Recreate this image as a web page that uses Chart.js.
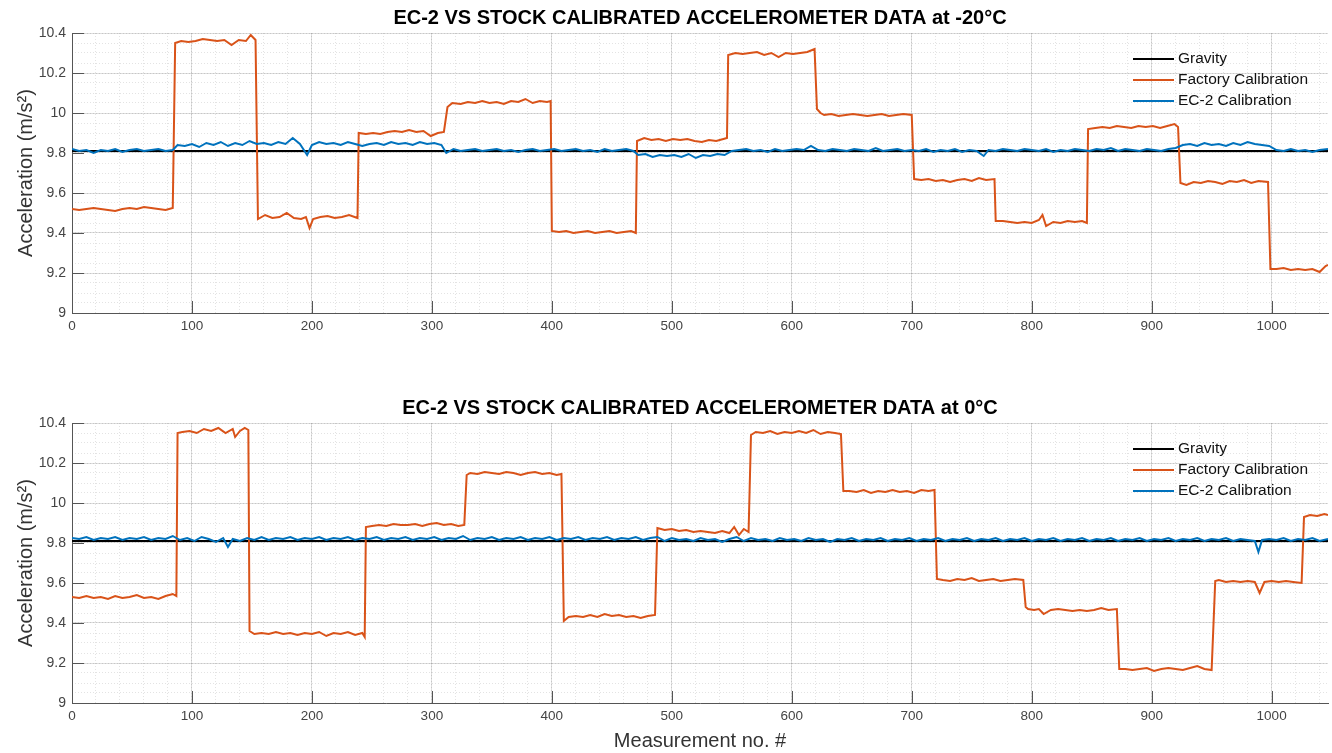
<!DOCTYPE html>
<html>
<head>
<meta charset="utf-8">
<script src="https://cdn.jsdelivr.net/npm/chart.js@4.4.0/dist/chart.umd.min.js"></script>
<style>
body{margin:0;background:#fff;}
canvas{position:absolute;left:0;}
#top{top:0;}
#bottom{top:390px;}
</style>
</head>
<body>
<canvas id="top" width="1332" height="365"></canvas>
<canvas id="bottom" width="1332" height="363"></canvas>
<script>
var xMax = 1047;
var seriesNames = ['Gravity', 'Factory Calibration', 'EC-2 Calibration'];
var titles = ['EC-2 VS STOCK CALIBRATED ACCELEROMETER DATA at -20°C', 'EC-2 VS STOCK CALIBRATED ACCELEROMETER DATA at 0°C'];
var gravity = [[0, 9.81], [1047, 9.81]];

var topFactory = [
[0,9.52],[6,9.515],[12,9.52],[18,9.525],[24,9.52],[30,9.515],[36,9.51],[42,9.52],[48,9.525],[54,9.52],[60,9.53],[66,9.525],[72,9.52],[78,9.515],[84,9.525],
[86,10.35],[91,10.36],[97,10.355],[103,10.36],[109,10.37],[115,10.365],[121,10.36],[127,10.365],[133,10.34],[139,10.365],[145,10.36],[149,10.39],[153,10.365],
[155,9.47],[161,9.49],[167,9.475],[173,9.48],[179,9.50],[185,9.475],[191,9.47],[195,9.48],[198,9.425],[201,9.47],[207,9.48],[213,9.485],[219,9.475],[225,9.48],[231,9.49],[238,9.475],
[239,9.90],[245,9.895],[251,9.90],[257,9.895],[263,9.905],[269,9.91],[275,9.905],[281,9.915],[287,9.905],[293,9.91],[299,9.885],[305,9.90],[310,9.905],
[313,10.03],[317,10.05],[324,10.045],[330,10.055],[336,10.05],[342,10.06],[348,10.05],[354,10.055],[360,10.045],[366,10.06],[372,10.055],[378,10.07],[384,10.05],[390,10.06],[396,10.055],[399,10.06],
[400,9.41],[406,9.405],[412,9.41],[418,9.40],[424,9.405],[430,9.41],[436,9.40],[442,9.405],[448,9.41],[454,9.40],[460,9.405],[466,9.41],[470,9.40],
[471,9.86],[477,9.875],[483,9.865],[489,9.87],[495,9.86],[501,9.87],[507,9.865],[513,9.87],[519,9.86],[525,9.855],[531,9.865],[537,9.86],[543,9.87],[546,9.875],
[547,10.29],[553,10.30],[559,10.295],[565,10.30],[571,10.305],[577,10.29],[583,10.30],[589,10.28],[595,10.30],[601,10.295],[607,10.30],[613,10.305],[619,10.32],
[621,10.02],[624,10.0],[627,9.99],[633,9.995],[639,9.985],[645,9.99],[651,9.995],[657,9.99],[663,9.985],[669,9.99],[675,9.995],[681,9.985],[687,9.99],[693,9.995],[700,9.99],
[702,9.67],[708,9.665],[714,9.67],[720,9.66],[726,9.665],[732,9.655],[738,9.665],[744,9.67],[750,9.66],[756,9.675],[762,9.665],[769,9.67],
[770,9.46],[776,9.46],[782,9.455],[788,9.45],[794,9.455],[800,9.45],[806,9.465],[809,9.49],[812,9.435],[818,9.455],[824,9.45],[830,9.46],[836,9.455],[842,9.46],[846,9.45],
[847,9.92],[853,9.925],[859,9.93],[865,9.925],[871,9.935],[877,9.93],[883,9.925],[889,9.935],[895,9.93],[901,9.935],[907,9.925],[913,9.935],[919,9.945],[922,9.93],
[924,9.65],[929,9.64],[935,9.655],[941,9.65],[947,9.66],[953,9.655],[959,9.645],[965,9.66],[971,9.655],[977,9.665],[983,9.65],[989,9.66],[997,9.655],
[999,9.22],[1004,9.22],[1010,9.225],[1016,9.215],[1022,9.22],[1028,9.215],[1034,9.22],[1040,9.205],[1045,9.235],[1047,9.24]
];

var topEc2 = [
[0,9.82],[6,9.81],[12,9.815],[18,9.80],[24,9.815],[30,9.81],[36,9.82],[42,9.805],[48,9.815],[54,9.82],[60,9.81],[66,9.815],[72,9.82],[78,9.81],[84,9.815],
[88,9.84],[94,9.835],[100,9.845],[106,9.83],[112,9.85],[118,9.84],[124,9.855],[130,9.835],[136,9.85],[142,9.84],[148,9.86],[154,9.845],[160,9.85],[166,9.84],[172,9.855],[178,9.845],[184,9.875],[190,9.845],[196,9.79],[200,9.84],[206,9.855],[212,9.845],[218,9.85],[224,9.84],[230,9.855],[236,9.845],[242,9.835],[248,9.845],[254,9.85],[260,9.84],[266,9.855],[272,9.845],[278,9.85],[284,9.84],[290,9.855],[296,9.845],[302,9.85],[308,9.84],
[312,9.80],[318,9.82],[324,9.81],[330,9.815],[336,9.82],[342,9.81],[348,9.815],[354,9.82],[360,9.81],[366,9.815],[372,9.805],[378,9.815],[384,9.82],[390,9.81],[396,9.815],[402,9.82],[408,9.81],[414,9.815],[420,9.82],[426,9.81],[432,9.815],[438,9.805],[444,9.82],[450,9.81],[456,9.815],[462,9.82],[468,9.81],
[472,9.79],[478,9.795],[484,9.78],[490,9.79],[496,9.785],[502,9.79],[508,9.78],[514,9.795],[520,9.775],[526,9.79],[532,9.785],[538,9.795],[544,9.79],
[550,9.81],[556,9.815],[562,9.82],[568,9.81],[574,9.815],[580,9.805],[586,9.82],[592,9.81],[598,9.815],[604,9.82],[610,9.815],[616,9.835],[622,9.815],[628,9.81],[634,9.82],[640,9.815],[646,9.81],[652,9.82],[658,9.815],[664,9.81],[670,9.825],[676,9.81],[682,9.815],[688,9.82],[694,9.81],[700,9.815],[706,9.81],[712,9.82],[718,9.805],[724,9.815],[730,9.81],[736,9.82],[742,9.805],[748,9.815],[754,9.81],[760,9.785],[764,9.815],[770,9.81],[776,9.82],[782,9.815],[788,9.81],[794,9.82],[800,9.815],[806,9.81],[812,9.82],[818,9.805],[824,9.815],[830,9.81],[836,9.82],[842,9.815],[848,9.81],[854,9.82],[860,9.815],[866,9.825],[872,9.81],[878,9.82],[884,9.815],[890,9.81],[896,9.82],[902,9.815],[908,9.81],[914,9.82],[920,9.825],
[926,9.84],[932,9.845],[938,9.835],[944,9.85],[950,9.84],[956,9.845],[962,9.835],[968,9.85],[974,9.84],[980,9.855],[986,9.845],[992,9.84],[998,9.835],
[1004,9.815],[1010,9.81],[1016,9.82],[1022,9.81],[1028,9.815],[1034,9.805],[1040,9.815],[1047,9.82]
];

var bottomFactory = [
[0,9.53],[6,9.525],[12,9.535],[18,9.525],[24,9.53],[30,9.52],[36,9.535],[42,9.525],[48,9.53],[54,9.54],[60,9.525],[66,9.53],[72,9.52],[78,9.535],[84,9.545],[87,9.535],
[88,10.35],[92,10.355],[98,10.36],[104,10.35],[110,10.37],[116,10.36],[122,10.375],[128,10.35],[134,10.37],[136,10.33],[140,10.36],[144,10.375],[147,10.365],
[148,9.36],[152,9.345],[158,9.35],[164,9.345],[170,9.355],[176,9.345],[182,9.35],[188,9.34],[194,9.35],[200,9.345],[206,9.355],[212,9.335],[218,9.35],[224,9.345],[230,9.355],[236,9.34],[242,9.35],[244,9.33],
[245,9.88],[250,9.885],[256,9.89],[262,9.885],[268,9.895],[274,9.89],[280,9.89],[286,9.895],[292,9.885],[298,9.895],[304,9.90],[310,9.89],[316,9.895],[322,9.885],[327,9.89],
[329,10.14],[332,10.15],[338,10.145],[344,10.155],[350,10.15],[356,10.145],[362,10.155],[368,10.15],[374,10.14],[380,10.15],[386,10.155],[392,10.145],[398,10.15],[404,10.14],[408,10.145],
[410,9.41],[414,9.43],[420,9.435],[426,9.43],[432,9.44],[438,9.43],[444,9.445],[450,9.435],[456,9.44],[462,9.43],[468,9.435],[474,9.425],[480,9.435],[486,9.44],
[488,9.875],[494,9.865],[500,9.87],[506,9.86],[512,9.865],[518,9.855],[524,9.86],[530,9.855],[536,9.85],[542,9.86],[548,9.85],[552,9.88],[556,9.84],[560,9.87],[564,9.855],
[566,10.34],[570,10.355],[576,10.35],[582,10.36],[588,10.345],[594,10.355],[600,10.35],[606,10.36],[612,10.35],[618,10.365],[624,10.345],[630,10.355],[636,10.35],[641,10.345],
[643,10.06],[648,10.06],[654,10.055],[660,10.065],[666,10.05],[672,10.06],[678,10.055],[684,10.065],[690,10.055],[696,10.06],[702,10.05],[708,10.065],[714,10.06],[719,10.065],
[721,9.62],[726,9.615],[732,9.61],[738,9.62],[744,9.615],[750,9.625],[756,9.61],[762,9.615],[768,9.62],[774,9.61],[780,9.615],[786,9.62],[793,9.615],
[795,9.48],[797,9.47],[802,9.465],[806,9.47],[810,9.445],[816,9.465],[822,9.47],[828,9.465],[834,9.46],[840,9.465],[846,9.46],[852,9.465],[858,9.475],[864,9.465],[871,9.47],
[873,9.17],[878,9.17],[884,9.165],[890,9.17],[896,9.175],[902,9.16],[908,9.17],[914,9.175],[920,9.17],[926,9.165],[932,9.175],[938,9.185],[944,9.17],[950,9.165],
[953,9.61],[956,9.615],[962,9.605],[968,9.61],[974,9.605],[980,9.61],[986,9.605],[990,9.55],[994,9.605],[1000,9.61],[1006,9.605],[1012,9.61],[1018,9.605],[1025,9.60],
[1027,9.93],[1032,9.94],[1038,9.935],[1044,9.945],[1047,9.94]
];

var bottomEc2 = [
[0,9.825],[6,9.82],[12,9.83],[18,9.815],[24,9.825],[30,9.82],[36,9.83],[42,9.815],[48,9.825],[54,9.82],[60,9.83],[66,9.815],[72,9.825],[78,9.82],[84,9.835],[90,9.815],[96,9.825],[102,9.81],[108,9.83],[114,9.82],[120,9.805],[126,9.825],[130,9.78],[134,9.82],[140,9.81],[146,9.825],[152,9.815],[158,9.83],[164,9.815],[170,9.825],[176,9.82],[182,9.83],[188,9.815],[194,9.825],[200,9.82],[206,9.83],[212,9.815],[218,9.825],[224,9.82],[230,9.83],[236,9.815],[242,9.825],[248,9.82],[254,9.83],[260,9.815],[266,9.825],[272,9.82],[278,9.83],[284,9.815],[290,9.825],[296,9.82],[302,9.83],[308,9.815],[314,9.825],[320,9.82],[326,9.835],[332,9.815],[338,9.825],[344,9.82],[350,9.83],[356,9.815],[362,9.825],[368,9.82],[374,9.83],[380,9.815],[386,9.825],[392,9.82],[398,9.83],[404,9.815],[410,9.825],[416,9.82],[422,9.83],[428,9.815],[434,9.825],[440,9.82],[446,9.83],[452,9.815],[458,9.825],[464,9.82],[470,9.83],[476,9.815],[482,9.825],[488,9.83],[494,9.81],[500,9.825],[506,9.815],[512,9.82],[518,9.81],[524,9.825],[530,9.815],[536,9.82],[542,9.805],[548,9.82],[554,9.83],[560,9.81],[566,9.825],[572,9.815],[578,9.82],[584,9.81],[590,9.825],[596,9.815],[602,9.82],[608,9.81],[614,9.825],[620,9.815],[626,9.82],[632,9.805],[638,9.82],[644,9.815],[650,9.825],[656,9.81],[662,9.82],[668,9.815],[674,9.825],[680,9.81],[686,9.82],[692,9.815],[698,9.825],[704,9.81],[710,9.82],[716,9.815],[722,9.825],[728,9.81],[734,9.82],[740,9.815],[746,9.825],[752,9.81],[758,9.82],[764,9.815],[770,9.825],[776,9.81],[782,9.82],[788,9.815],[794,9.825],[800,9.81],[806,9.82],[812,9.815],[818,9.825],[824,9.81],[830,9.82],[836,9.815],[842,9.825],[848,9.81],[854,9.82],[860,9.815],[866,9.825],[872,9.81],[878,9.82],[884,9.815],[890,9.825],[896,9.81],[902,9.82],[908,9.815],[914,9.825],[920,9.81],[926,9.82],[932,9.815],[938,9.825],[944,9.81],[950,9.82],[956,9.815],[962,9.825],[968,9.81],[974,9.82],[980,9.815],[986,9.81],[989,9.755],[992,9.815],[998,9.82],[1004,9.815],[1010,9.825],[1016,9.81],[1022,9.82],[1028,9.815],[1034,9.825],[1040,9.81],[1047,9.82]
];

Chart.defaults.font.family = '"Liberation Sans", Arial, sans-serif';

function toXY(arr) {
	return arr.map(function(p) { return {x: p[0], y: p[1]}; });
}

// matlab style: ticks inside the box, legend inside top right
var insideBits = {
	id: 'insideBits',
	afterDraw: function(chart) {
		var ctx = chart.ctx, a = chart.chartArea;
		var xs = chart.scales.x, ys = chart.scales.y;
		ctx.save();
		ctx.strokeStyle = '#555';
		ctx.lineWidth = 1;
		ctx.beginPath();
		xs.ticks.forEach(function(t) {
			var px = Math.round(xs.getPixelForValue(t.value)) + 0.5;
			ctx.moveTo(px, a.bottom);
			ctx.lineTo(px, a.bottom - 12);
		});
		ys.ticks.forEach(function(t) {
			var py = Math.round(ys.getPixelForValue(t.value)) + 0.5;
			ctx.moveTo(a.left, py);
			ctx.lineTo(a.left + 12, py);
		});
		ctx.stroke();

		ctx.font = '15.5px "Liberation Sans", Arial, sans-serif';
		ctx.textBaseline = 'middle';
		ctx.fillStyle = '#111';
		chart.data.datasets.forEach(function(ds, i) {
			var y = a.top + 26 + i * 21;
			ctx.strokeStyle = ds.borderColor;
			ctx.lineWidth = 2;
			ctx.beginPath();
			ctx.moveTo(a.right - 195, y);
			ctx.lineTo(a.right - 154, y);
			ctx.stroke();
			ctx.fillText(ds.label, a.right - 150, y);
		});
		ctx.restore();
	}
};

function makeChart(id, title, factory, ec2, showXTitle, xHeight) {
	var chartdata = {
		datasets: [
			{label: seriesNames[0], data: toXY(gravity), borderColor: '#000000', borderWidth: 2, order: 3},
			{label: seriesNames[1], data: toXY(factory), borderColor: '#D95319', borderWidth: 2, order: 2},
			{label: seriesNames[2], data: toXY(ec2), borderColor: '#0072BD', borderWidth: 2, order: 1}
		]
	};
	return new Chart(document.getElementById(id), {
		type: 'line',
		data: chartdata,
		plugins: [insideBits],
		options: {
			responsive: false,
			animation: false,
			devicePixelRatio: 1,
			events: [],
			elements: {point: {radius: 0}, line: {tension: 0}},
			layout: {padding: {left: 0, right: 4, top: 0, bottom: 0}},
			plugins: {
				legend: {display: false},
				tooltip: {enabled: false},
				title: {display: true, fullSize: false, text: title, color: '#000', font: {size: 20, weight: 'bold'}, padding: {top: 6.5, bottom: 2.5}}
			},
			scales: {
				x: {
					type: 'linear', position: 'bottom', min: 0, max: xMax,
					ticks: {stepSize: 100, includeBounds: false, padding: 5, color: '#444', font: {size: 13.5}, maxRotation: 0,
						callback: function(v) { return String(v); }},
					grid: {color: 'rgba(0,0,0,0.13)', drawTicks: false},
					border: {color: '#555'},
					title: {display: showXTitle, text: 'Measurement no. #', color: '#333', font: {size: 20}, padding: {top: 0, bottom: 0}},
					afterFit: function(s) { s.height = xHeight; }
				},
				xMinor: {
					type: 'linear', position: 'bottom', min: 0, max: xMax,
					ticks: {display: false, stepSize: 20, includeBounds: false},
					grid: {color: 'rgba(0,0,0,0.11)', drawTicks: false},
					border: {display: false, dash: [1, 2]},
					afterFit: function(s) { s.height = 0; }
				},
				y: {
					position: 'left', min: 9, max: 10.4,
					ticks: {stepSize: 0.2, padding: 6, color: '#444', font: {size: 14},
						callback: function(v) { return String(Math.round(v * 10) / 10); }},
					grid: {color: 'rgba(0,0,0,0.13)', drawTicks: false},
					border: {color: '#555'},
					title: {display: true, text: 'Acceleration (m/s²)', color: '#333', font: {size: 20}, padding: {top: 14, bottom: 0}},
					afterFit: function(s) { s.width = 72; }
				},
				yMinor: {
					position: 'left', min: 9, max: 10.4,
					ticks: {display: false, stepSize: 0.05},
					grid: {color: 'rgba(0,0,0,0.11)', drawTicks: false},
					border: {display: false, dash: [1, 2]},
					afterFit: function(s) { s.width = 0; }
				}
			}
		}
	});
}

makeChart('top', titles[0], topFactory, topEc2, false, 52);
makeChart('bottom', titles[1], bottomFactory, bottomEc2, true, 50);
</script>
</body>
</html>
